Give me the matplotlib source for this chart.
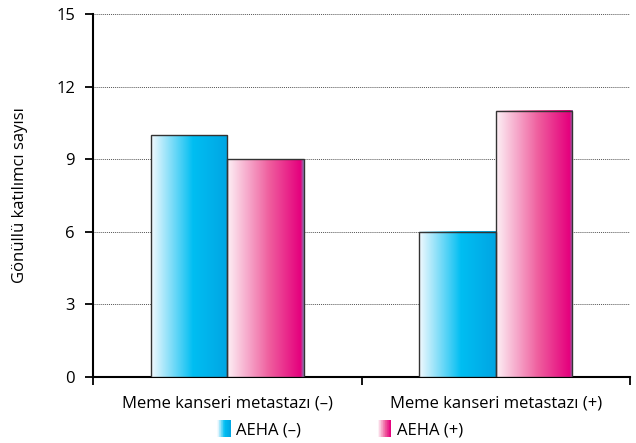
import matplotlib
matplotlib.use("Agg")
from matplotlib import pyplot as plt
from matplotlib.legend_handler import HandlerBase
from matplotlib.patches import Rectangle
from matplotlib.colors import LinearSegmentedColormap
import numpy as np

categories = ["Meme kanseri metastazı (–)", "Meme kanseri metastazı (+)"]
series_names = ["AEHA (–)", "AEHA (+)"]
aeha_neg = [10, 6]
aeha_pos = [9, 11]
yticks = [0, 3, 6, 9, 12, 15]

cmaps = [
    LinearSegmentedColormap.from_list("cy", [(0, "#f2f9fe"), (0.55, "#00bef2"), (1, "#00a5e3")]),
    LinearSegmentedColormap.from_list("mg", [(0, "#fdf0f5"), (0.55, "#ef5e9e"), (0.96, "#e5007d"), (1, "#8a78b0")]),
]

plt.rcParams['font.family'] = ['Open Sans', 'DejaVu Sans']
fs = 12

fig = plt.figure(figsize=(6.36, 4.43), dpi=100)
ax = fig.add_axes([93 / 636, 66 / 443, 537 / 636, 363 / 443])

width = 0.285
grad = np.linspace(0, 1, 128).reshape(1, -1)
centers = np.arange(len(categories)) + 0.5
for s, vals in enumerate([aeha_neg, aeha_pos]):
    xs = centers + (s - 0.5) * width
    bars = ax.bar(xs, vals, width=width, facecolor="none", edgecolor="#333333",
                  linewidth=1.0, zorder=4)
    for b in bars:
        x0 = b.get_x()
        ax.imshow(grad, cmap=cmaps[s], aspect="auto", zorder=3,
                  extent=(x0, x0 + b.get_width(), 0, b.get_height()))

ax.set_xlim(0, 2)
ax.set_ylim(0, 15)
ax.set_yticks(yticks)
ax.set_yticklabels([str(t) for t in yticks], fontsize=fs)
ax.yaxis.grid(True, linestyle=(0, (1, 1)), color="#555555", linewidth=0.7)
ax.set_axisbelow(True)

ax.set_xticks([0, 1, 2])
ax.set_xticklabels([])
ax.set_xticks(centers, minor=True)
ax.set_xticklabels(categories, minor=True, fontsize=fs)
ax.tick_params(axis="x", which="minor", length=0, pad=13)
ax.tick_params(axis="x", which="major", length=6, width=1.3, direction="out")
ax.tick_params(axis="y", length=6, width=1.3, direction="out", pad=7)

for side in ["top", "right"]:
    ax.spines[side].set_visible(False)
for side in ["left", "bottom"]:
    ax.spines[side].set_linewidth(1.5)

ax.set_ylabel("Gönüllü katılımcı sayısı", fontsize=fs, labelpad=20)


class GradHandler(HandlerBase):
    def __init__(self, cmap):
        super().__init__()
        self.cmap = cmap

    def create_artists(self, legend, orig_handle, xdescent, ydescent, width, height, fontsize, trans):
        n = 20
        w = width / n
        arts = []
        for i in range(n):
            r = Rectangle((-xdescent + i * w, -ydescent - 2), w * 1.05, height + 4,
                          facecolor=self.cmap(min(i / (n - 1), 0.94)), edgecolor="none",
                          transform=trans)
            arts.append(r)
        return arts


h1 = Rectangle((0, 0), 1, 1)
h2 = Rectangle((0, 0), 1, 1)
leg = fig.legend([h1, h2], series_names, loc="center", bbox_to_anchor=(0.535, 0.029),
                 ncol=2, frameon=False, fontsize=fs, handlelength=0.8,
                 handletextpad=0.35, columnspacing=4.6, borderpad=0,
                 handler_map={h1: GradHandler(cmaps[0]), h2: GradHandler(cmaps[1])})

fig.savefig("out.png", dpi=100)
